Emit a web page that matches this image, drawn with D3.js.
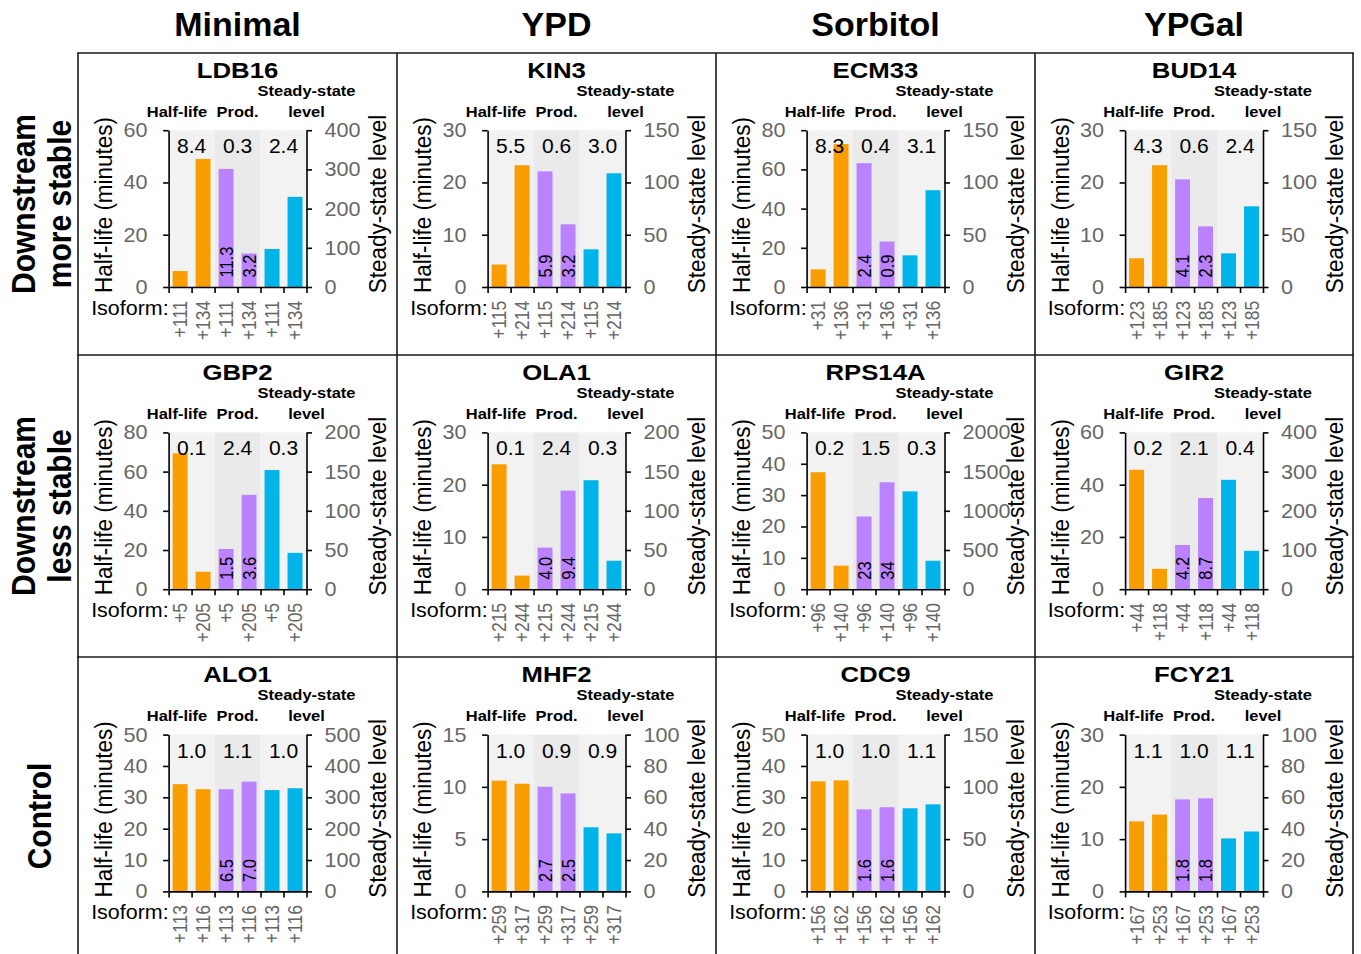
<!DOCTYPE html>
<html>
<head>
<meta charset="utf-8">
<script src="https://cdn.jsdelivr.net/npm/d3@7"></script>
<style>
  body { margin: 0; background: #fff; }
  svg { display: block; font-family: "Liberation Sans", Arial, Helvetica, sans-serif; }
</style>
</head>
<body>
<div id="chart"></div>
<script>
// Set dimensions
const width = 1361;
const height = 954;

// Columns (growth conditions) and rows (gene groups)
const conditions = ["Minimal", "YPD", "Sorbitol", "YPGal"];
const groups = [["Downstream", "more stable"], ["Downstream", "less stable"], ["Control"]];

// One entry per panel, row by row
const genes = ["LDB16", "KIN3", "ECM33", "BUD14",
               "GBP2", "OLA1", "RPS14A", "GIR2",
               "ALO1", "MHF2", "CDC9", "FCY21"];
const isoforms = [["+111", "+134"], ["+115", "+214"], ["+31", "+136"], ["+123", "+185"],
                  ["+5", "+205"], ["+215", "+244"], ["+96", "+140"], ["+44", "+118"],
                  ["+113", "+116"], ["+259", "+317"], ["+156", "+162"], ["+167", "+253"]];
const halfLife = [[6.1, 49.0], [4.3, 23.3], [9.0, 72.9], [5.5, 23.3],
                  [69.3, 8.9], [23.9, 2.6], [37.3, 7.5], [45.7, 7.8],
                  [34.2, 32.6], [10.6, 10.3], [35.1, 35.4], [13.4, 14.7]];
const production = [[11.3, 3.2], [5.9, 3.2], [2.37, 0.87], [4.12, 2.32],
                     [1.54, 3.61], [3.98, 9.43], [23.2, 34.1], [4.23, 8.72],
                     [6.52, 7.0], [2.67, 2.5], [1.57, 1.61], [1.76, 1.78]];
const steadyState = [[97, 230], [36.1, 108.8], [30.3, 92.6], [32.2, 77.2],
                     [152, 46.4], [139, 36.3], [1248, 363], [279, 98],
                     [323, 329], [40.9, 37.0], [79.5, 83.3], [33.8, 38.2]];
// fold change (second isoform / first) for half-life, production, steady-state
const ratios = [[8.4, 0.3, 2.4], [5.5, 0.6, 3.0], [8.3, 0.4, 3.1], [4.3, 0.6, 2.4],
                [0.1, 2.4, 0.3], [0.1, 2.4, 0.3], [0.2, 1.5, 0.3], [0.2, 2.1, 0.4],
                [1.0, 1.1, 1.0], [1.0, 0.9, 0.9], [1.0, 1.0, 1.1], [1.1, 1.0, 1.1]];
// axis domains and tick steps
const halfLifeMax = [60, 30, 80, 30, 80, 30, 50, 60, 50, 15, 50, 30];
const halfLifeStep = [20, 10, 20, 10, 20, 10, 10, 20, 10, 5, 10, 10];
const levelMax = [400, 150, 150, 150, 200, 200, 2000, 400, 500, 100, 150, 100];
const levelStep = [100, 50, 50, 50, 50, 50, 500, 100, 100, 20, 50, 20];
const prodMax = [15, 8, 3, 6, 6, 15, 50, 15, 10, 4, 3, 3]; // hidden production axis

const colors = { hl: "#f99e00", prod: "#bb82ff", level: "#00b4ea" };
const bandFill = ["#f2f2f2", "#eaeaea", "#f2f2f2"];
const grey = "#666";

// Layout (screen px)
const colX = [78, 397, 716, 1034.5];
const rowY = [53, 355.2, 657.4];
const panelW = 319;
const plot = { left: 90.6, right: 228.5, top: 77.2, bottom: 234 };
const rowLabelY = [204, 506, 816];

// the reference text is drawn a little wide, so texts get a horizontal stretch
function place(sel, x, y, k, rotated) {
  return sel.attr("transform", `translate(${x},${y})` +
    (rotated ? ` rotate(-90) scale(1,${k})` : ` scale(${k},1)`));
}

const svg = d3.select("#chart")
  .append("svg")
  .attr("width", width)
  .attr("height", height);

svg.append("rect").attr("width", width).attr("height", height).attr("fill", "#fff");

// Column headers
conditions.forEach((name, c) => {
  place(svg.append("text"), colX[c] + panelW / 2, 36, 1.03)
    .attr("text-anchor", "middle")
    .style("font-size", "33px")
    .style("font-weight", "bold")
    .text(name);
});

// Row labels
groups.forEach((lines, r) => {
  const xs = lines.length === 2 ? [23.5, 60] : [40];
  lines.forEach((t, j) => {
    place(svg.append("text"), xs[j], rowLabelY[r], 1.08, true)
      .attr("text-anchor", "middle")
      .attr("dy", "0.35em")
      .style("font-size", "30px")
      .style("font-weight", "bold")
      .text(t);
  });
});

// Panels
genes.forEach((gene, i) => {
  const r = Math.floor(i / 4), c = i % 4;
  const g = svg.append("g").attr("transform", `translate(${colX[c]},${rowY[r]})`);

  const xBand = d3.scaleBand().domain(d3.range(6))
    .range([plot.left, plot.right]).paddingInner(0.35).paddingOuter(0.175);
  const xEdge = d3.scaleLinear().domain([0, 6]).range([plot.left, plot.right]);
  const yHL = d3.scaleLinear().domain([0, halfLifeMax[i]]).range([plot.bottom, plot.top]);
  const yProd = d3.scaleLinear().domain([0, prodMax[i]]).range([plot.bottom, plot.top]);
  const yLev = d3.scaleLinear().domain([0, levelMax[i]]).range([plot.bottom, plot.top]);

  // shaded bands behind each measurement
  g.selectAll("rect.band")
    .data(bandFill)
    .enter()
    .append("rect")
    .attr("x", (d, k) => xEdge(2 * k))
    .attr("width", (d, k) => xEdge(2 * k + 2) - xEdge(2 * k))
    .attr("y", plot.top)
    .attr("height", plot.bottom - plot.top)
    .attr("fill", d => d);

  const bars = [
    { v: halfLife[i][0], s: yHL, c: colors.hl },
    { v: halfLife[i][1], s: yHL, c: colors.hl },
    { v: production[i][0], s: yProd, c: colors.prod },
    { v: production[i][1], s: yProd, c: colors.prod },
    { v: steadyState[i][0], s: yLev, c: colors.level },
    { v: steadyState[i][1], s: yLev, c: colors.level }
  ];

  g.selectAll("rect.bar")
    .data(bars)
    .enter()
    .append("rect")
    .attr("x", (d, k) => xBand(k))
    .attr("width", xBand.bandwidth())
    .attr("y", d => d.s(d.v))
    .attr("height", d => plot.bottom - d.s(d.v))
    .attr("fill", d => d.c);

  // production values written inside the purple bars
  [2, 3].forEach(k => {
    const v = bars[k].v;
    place(g.append("text"), xBand(k) + xBand.bandwidth() / 2, plot.bottom - 9.5, 1.15, true)
      .attr("dy", "0.35em")
      .style("font-size", "16.5px")
      .text(v >= 20 ? d3.format(".0f")(v) : d3.format(".1f")(v));
  });

  // fold changes
  ratios[i].forEach((v, k) => {
    place(g.append("text"), (xEdge(2 * k) + xEdge(2 * k + 2)) / 2, plot.top + 23, 1.08)
      .attr("text-anchor", "middle")
      .style("font-size", "19.5px")
      .text(d3.format(".1f")(v));
  });

  // axes
  const kTick = 1.08;
  const left = g.append("g").attr("transform", `translate(${plot.left},0)`)
    .call(d3.axisLeft(yHL)
      .tickValues(d3.range(0, halfLifeMax[i] + 1e-6, halfLifeStep[i]))
      .tickFormat(d3.format("d"))
      .tickSizeInner(5.5).tickSizeOuter(0));
  left.selectAll(".tick text")
    .attr("x", -21 / kTick)
    .attr("transform", `scale(${kTick},1)`);

  const right = g.append("g").attr("transform", `translate(${plot.right},0)`)
    .call(d3.axisRight(yLev)
      .tickValues(d3.range(0, levelMax[i] + 1e-6, levelStep[i]))
      .tickFormat(d3.format("d"))
      .tickSizeInner(5.5).tickSizeOuter(0));
  right.selectAll(".tick text")
    .attr("x", 18 / kTick)
    .attr("transform", `scale(${kTick},1)`);

  const bottom = g.append("g").attr("transform", `translate(0,${plot.bottom})`)
    .call(d3.axisBottom(xEdge).tickValues(d3.range(7)).tickFormat(() => "")
      .tickSizeInner(6).tickSizeOuter(0));

  [left, right, bottom].forEach(a => {
    a.selectAll("path, line").attr("stroke", "#000").attr("stroke-width", 1.6);
    a.selectAll("text").attr("fill", grey).style("font-size", "20px")
      .style("font-family", "'Liberation Sans', Arial, sans-serif");
  });

  // isoform labels
  isoforms[i].concat(isoforms[i], isoforms[i]).forEach((t, k) => {
    place(g.append("text"), xBand(k) + xBand.bandwidth() / 2, plot.bottom + 13.7, 1.2, true)
      .attr("text-anchor", "end")
      .attr("dy", "0.35em")
      .attr("fill", grey)
      .style("font-size", "17.5px")
      .text(t);
  });
  place(g.append("text"), plot.left, 262, 1.1)
    .attr("text-anchor", "end")
    .style("font-size", "19.5px")
    .text("Isoform:");

  // titles and headers
  place(g.append("text"), panelW / 2, 24.5, 1.12)
    .attr("text-anchor", "middle")
    .style("font-size", "23px").style("font-weight", "bold")
    .text(gene);
  const heads = [["Half-life", 99, 64], ["Prod.", (xEdge(2) + xEdge(4)) / 2, 64],
                 ["Steady-state", plot.right, 43], ["level", plot.right, 64]];
  heads.forEach(([t, x, y]) => {
    place(g.append("text"), x, y, 1.1)
      .attr("text-anchor", "middle")
      .style("font-size", "15px").style("font-weight", "bold")
      .text(t);
  });

  place(g.append("text"), 26, 152, 1.05, true)
    .attr("text-anchor", "middle").attr("dy", "0.35em")
    .style("font-size", "22.5px")
    .text("Half-life (minutes)");
  place(g.append("text"), 300, 151, 1.05, true)
    .attr("text-anchor", "middle").attr("dy", "0.35em")
    .style("font-size", "22.5px")
    .text("Steady-state level");
});

// Panel frame
const frame = svg.append("g").attr("stroke", "#1a1a1a").attr("stroke-width", 1.6);
[78, 397, 716, 1035, 1353].forEach(x => {
  frame.append("line").attr("x1", x).attr("x2", x).attr("y1", 53).attr("y2", height);
});
rowY.forEach(y => {
  frame.append("line").attr("x1", 77).attr("x2", 1354).attr("y1", Math.round(y)).attr("y2", Math.round(y));
});
</script>
</body>
</html>
